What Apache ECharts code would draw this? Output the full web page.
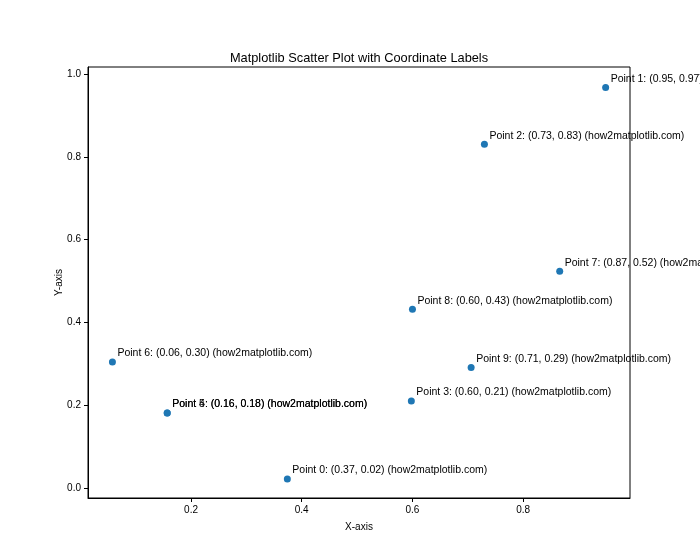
<!DOCTYPE html>
<html>
<head>
<meta charset="utf-8">
<script src="https://cdn.jsdelivr.net/npm/echarts@6/dist/echarts.min.js"></script>
<style>
  html, body { margin: 0; padding: 0; background: #fff; }
  #chart { width: 700px; height: 560px; }
</style>
</head>
<body>
<div id="chart"></div>
<script>
// point data
const pointNames = ["Point 0", "Point 1", "Point 2", "Point 3", "Point 4",
                    "Point 5", "Point 6", "Point 7", "Point 8", "Point 9"];
const xValues = [0.374, 0.949, 0.730, 0.598, 0.157, 0.157, 0.058, 0.866, 0.600, 0.706];
const yValues = [0.021, 0.968, 0.831, 0.210, 0.181, 0.181, 0.304, 0.524, 0.432, 0.291];
const xTicks = [0.2, 0.4, 0.6, 0.8];
const yTicks = [0.0, 0.2, 0.4, 0.6, 0.8, 1.0];

const FONT = "Liberation Sans";

const chart = echarts.init(document.getElementById("chart"), null, { renderer: "canvas" });

const scatterData = pointNames.map((n, i) => ({
  name: n,
  value: [xValues[i], yValues[i]],
}));

const axisCommon = {
  axisLine: { show: true, onZero: false, lineStyle: { color: "#000", width: 1 } },
  axisTick: { show: true, inside: false, length: 4, lineStyle: { color: "#000" } },
  splitLine: { show: false },
  nameLocation: "middle",
  nameMoveOverlap: false,
  nameTextStyle: { fontFamily: FONT, fontSize: 10, color: "#000" },
};

chart.setOption({
  animation: false,
  title: {
    text: "Matplotlib Scatter Plot with Coordinate Labels",
    left: 354,
    top: 47,
    textAlign: "center",
    textStyle: { fontFamily: FONT, fontSize: 12.8, fontWeight: "normal", color: "#000" },
  },
  grid: {
    left: 88, right: 70, top: 67, bottom: 62,
    show: true, borderColor: "#000", borderWidth: 1, backgroundColor: "transparent",
  },
  xAxis: {
    ...axisCommon,
    type: "value",
    min: 0.0139,
    max: 0.993,
    name: "X-axis",
    nameGap: 24,
    axisTick: { ...axisCommon.axisTick, customValues: xTicks },
    axisLabel: {
      customValues: xTicks, margin: 7,
      fontFamily: FONT, fontSize: 10, color: "#000",
      formatter: (v) => v.toFixed(1),
    },
  },
  yAxis: {
    ...axisCommon,
    type: "value",
    min: -0.0247,
    max: 1.0177,
    name: "Y-axis",
    nameGap: 24,
    axisTick: { ...axisCommon.axisTick, customValues: yTicks },
    axisLabel: {
      customValues: yTicks, margin: 7,
      fontFamily: FONT, fontSize: 10, color: "#000",
      formatter: (v) => v.toFixed(1),
    },
  },
  series: [
    {
      type: "scatter",
      data: scatterData,
      symbolSize: 7,
      itemStyle: { color: "#1f77b4", opacity: 1 },
      clip: false,
      label: {
        show: true,
        position: [8.5, 0.5],
        align: "left",
        verticalAlign: "bottom",
        fontFamily: FONT,
        fontSize: 10.5,
        color: "#000",
        formatter: (p) =>
          `${p.name}: (${p.value[0].toFixed(2)}, ${p.value[1].toFixed(2)}) (how2matplotlib.com)`,
      },
      labelLayout: { hideOverlap: false },
      z: 3,
    },
  ],
});
</script>
</body>
</html>
